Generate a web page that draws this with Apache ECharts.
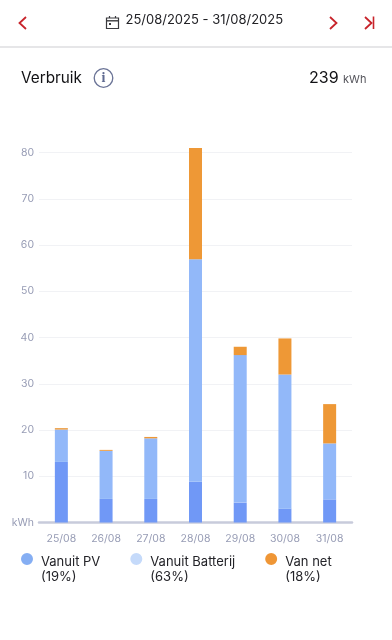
<!DOCTYPE html>
<html>
<head>
<meta charset="utf-8">
<style>html,body{margin:0;padding:0;background:#fff}#c{width:392px;height:640px}</style>
<script src="https://cdn.jsdelivr.net/npm/echarts@6/dist/echarts.min.js"></script>
</head>
<body>
<div id="c"></div>
<script>
const categories = ['25/08','26/08','27/08','28/08','29/08','30/08','31/08'];
const vanuitPV = [13.1,5.1,5.1,8.8,4.3,3.0,5.0];
const vanuitBatterij = [7.0,10.4,13.1,48.1,31.9,29.0,12.1];
const vanNet = [0.3,0.2,0.3,24.1,1.8,7.8,8.5];
const legendNames = ['Vanuit PV\n(19%)','Vanuit Batterij\n(63%)','Van net\n(18%)'];
const legendColors = ['#85aef3','#c5dafa','#ef9636'];
const dateRange = '25/08/2025 - 31/08/2025';
const titleText = 'Verbruik';
const totalText = '239';
const unitText = 'kWh';

const FONT = 'Inter, Roboto, sans-serif';
const RED = '#c8242b';
const ICON = 'path://M6 0A6 6 0 1 1 6 12A6 6 0 1 1 6 0ZM15 34L15 34L15 34Z';
function chevron(pts){return {type:'polyline',shape:{points:pts},style:{stroke:RED,lineWidth:1.8,fill:null}};}
const chart = echarts.init(document.getElementById('c'),null,{renderer:'canvas'});
chart.setOption({
  animation:false,
  backgroundColor:'#fff',
  grid:{left:39,right:40,top:147.9,bottom:117.5,containLabel:false},
  legend:{
    left:16,top:548,itemWidth:15,itemHeight:34,itemGap:30,icon:ICON,orient:'horizontal',
    selectedMode:false,
    textStyle:{fontFamily:FONT,fontSize:13,color:'#232328',lineHeight:15},
    data:legendNames.map((n,i)=>({name:n,itemStyle:{color:legendColors[i]}}))
  },
  xAxis:{
    type:'category',data:categories,
    axisLine:{lineStyle:{color:'#c8cbdb',width:2.5}},
    axisTick:{show:false},
    axisLabel:{color:'#979cb5',fontFamily:FONT,fontSize:10.5,margin:11}
  },
  yAxis:{
    type:'value',min:0,max:81,interval:10,
    axisLine:{show:false},axisTick:{show:false},
    splitLine:{showMaxLine:false,showMinLine:false,lineStyle:{color:'#f1f2f5',width:1}},
    axisLabel:{color:'#979cb5',fontFamily:FONT,fontSize:10.5,margin:5,showMaxLabel:false,
      formatter:v=>v===0?unitText:(v>80?'':String(v))}
  },
  series:[
    {name:legendNames[0],type:'bar',stack:'t',barWidth:13,data:vanuitPV,itemStyle:{color:'#7098f6'}},
    {name:legendNames[1],type:'bar',stack:'t',barWidth:13,data:vanuitBatterij,itemStyle:{color:'#92b8f9'}},
    {name:legendNames[2],type:'bar',stack:'t',barWidth:13,data:vanNet,itemStyle:{color:'#ee9836'}}
  ],
  graphic:[
    chevron([[26,17],[19.5,23],[26,29]]),
    chevron([[330,17],[336.5,23],[330,29]]),
    chevron([[365,17],[371.5,23],[365,29]]),
    {type:'line',shape:{x1:373.5,y1:16.5,x2:373.5,y2:29},style:{stroke:RED,lineWidth:1.6}},
    {type:'rect',shape:{x:106.5,y:18,width:12,height:10.5},style:{fill:null,stroke:'#3a3a3e',lineWidth:1.2}},
    {type:'line',shape:{x1:106.5,y1:20.8,x2:118.5,y2:20.8},style:{stroke:'#3a3a3e',lineWidth:1.4}},
    {type:'line',shape:{x1:109.5,y1:16,x2:109.5,y2:18},style:{stroke:'#3a3a3e',lineWidth:1.2}},
    {type:'line',shape:{x1:115.5,y1:16,x2:115.5,y2:18},style:{stroke:'#3a3a3e',lineWidth:1.2}},
    {type:'rect',shape:{x:109,y:23,width:2,height:2},style:{fill:'#3a3a3e'}},
    {type:'text',x:125.5,y:20.5,style:{text:dateRange,font:'13px '+FONT,fill:'#222226',textVerticalAlign:'middle'}},
    {type:'rect',shape:{x:0,y:46,width:392,height:2},style:{fill:'#e6e6e8'}},
    {type:'text',x:21,y:78,style:{text:titleText,font:'15.3px '+FONT,fill:'#111114',textVerticalAlign:'middle'}},
    {type:'circle',shape:{cx:103.5,cy:78,r:9.3},style:{fill:null,stroke:'#6a7396',lineWidth:1.3}},
    {type:'text',x:103.5,y:78,style:{text:'i',font:'bold 14px "Liberation Serif", serif',fill:'#5f6a90',textAlign:'center',textVerticalAlign:'middle'}},
    {type:'text',x:309,y:78,style:{text:totalText,font:'16px '+FONT,fill:'#111114',textVerticalAlign:'middle'}},
    {type:'text',x:343,y:80,style:{text:unitText,font:'11px '+FONT,fill:'#55555c',textVerticalAlign:'middle'}}
  ]
});
</script>
</body>
</html>
